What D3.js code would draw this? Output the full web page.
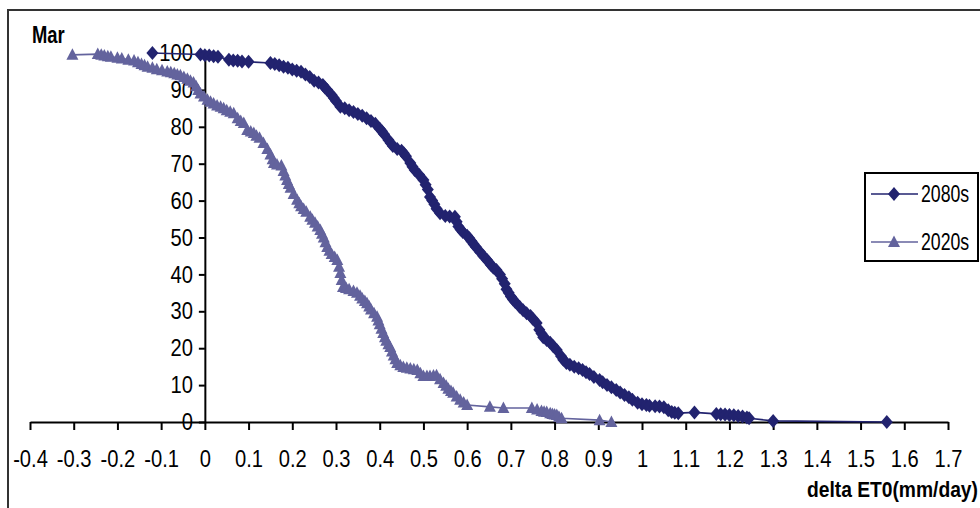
<!DOCTYPE html>
<html><head><meta charset="utf-8">
<script src="https://cdn.jsdelivr.net/npm/d3@7"></script>
<style>
html,body{margin:0;padding:0;background:#fff;}
svg{display:block;}
text{font-family:"Liberation Sans Narrow","Arial Narrow","Liberation Sans",Arial,sans-serif;fill:#000;}
</style></head>
<body>
<svg id="chart" width="980" height="508"></svg>
<script>
// ---- data ----
const xTicks = [-0.4,-0.3,-0.2,-0.1,0,0.1,0.2,0.3,0.4,0.5,0.6,0.7,0.8,0.9,1,1.1,1.2,1.3,1.4,1.5,1.6,1.7];
const xTickLabels = ["-0.4","-0.3","-0.2","-0.1","0","0.1","0.2","0.3","0.4","0.5","0.6","0.7","0.8","0.9","1","1.1","1.2","1.3","1.4","1.5","1.6","1.7"];
const yTicks = [0,10,20,30,40,50,60,70,80,90,100];
const seriesNames = ["2080s","2020s"];
const x2080s = [-0.12,-0.01,0.00,0.01,0.02,0.03,0.055,0.065,0.075,0.085,0.10,0.15,0.16,0.17,0.18,0.19,0.20,0.21,0.22,0.23,0.24,0.25,0.26,0.27,0.275,0.28,0.29,0.295,0.30,0.31,0.32,0.33,0.34,0.35,0.36,0.37,0.38,0.39,0.40,0.405,0.41,0.42,0.425,0.43,0.44,0.45,0.455,0.46,0.47,0.475,0.48,0.49,0.50,0.505,0.51,0.515,0.52,0.525,0.53,0.538,0.55,0.56,0.572,0.576,0.58,0.585,0.59,0.60,0.605,0.61,0.615,0.62,0.63,0.637,0.645,0.65,0.655,0.66,0.667,0.675,0.68,0.686,0.69,0.695,0.70,0.705,0.71,0.72,0.728,0.736,0.745,0.75,0.759,0.765,0.77,0.774,0.782,0.79,0.797,0.805,0.815,0.82,0.827,0.835,0.845,0.855,0.864,0.872,0.88,0.89,0.903,0.91,0.92,0.93,0.941,0.95,0.96,0.97,0.978,0.99,1.00,1.01,1.017,1.03,1.04,1.05,1.06,1.068,1.075,1.083,1.12,1.17,1.18,1.19,1.20,1.21,1.22,1.23,1.24,1.245,1.30,1.56];
const y2080s = [100,99.6,99.4,99.3,99.1,99,98.2,98,97.9,97.7,97.6,97.3,97,96.7,96.3,96,95.5,95.2,94.9,94.2,93.5,92.5,92,91.3,90.6,90,88.6,87.8,87,85.4,85,84.5,84,83.5,83,82.3,81.6,80.8,79.5,78.8,78,76.4,75.6,74.8,74,73.5,72.8,72,70.2,69.2,68.3,67,65.6,64.3,63,61,60,59,57.8,56.6,55.8,55.7,55.6,54.3,53,52.2,51.5,50.5,49.8,49,48.2,47.4,46,45,44,43.2,42.5,41.8,41.2,40,38.8,37.5,36,35,34,33.2,32.5,31.2,30.3,29.5,28.7,28,26.8,25,24,23,22.2,21.5,20.5,19.5,17.8,16.9,16,15.5,15,14.6,14.1,13.5,13,12.2,11.4,10.8,10,9.4,8.7,8,7.3,6.7,6,5.2,4.8,4.6,4.4,4.3,4.2,4,3.2,2.7,2.5,2.4,2.6,2.2,2.1,2,1.9,1.8,1.6,1.5,1.2,1,0.3,0];
const x2020s = [-0.303,-0.245,-0.237,-0.23,-0.222,-0.215,-0.20,-0.19,-0.175,-0.162,-0.153,-0.145,-0.138,-0.131,-0.12,-0.11,-0.098,-0.086,-0.078,-0.07,-0.063,-0.056,-0.048,-0.04,-0.033,-0.026,-0.02,-0.015,-0.01,-0.002,0.006,0.013,0.02,0.028,0.036,0.043,0.05,0.058,0.066,0.075,0.082,0.089,0.097,0.105,0.112,0.118,0.125,0.134,0.143,0.15,0.155,0.158,0.165,0.175,0.18,0.184,0.188,0.192,0.196,0.203,0.211,0.216,0.22,0.226,0.232,0.241,0.246,0.252,0.258,0.264,0.268,0.272,0.276,0.28,0.285,0.29,0.297,0.303,0.307,0.31,0.313,0.316,0.323,0.33,0.34,0.348,0.355,0.36,0.366,0.371,0.376,0.38,0.387,0.394,0.397,0.40,0.404,0.408,0.412,0.415,0.42,0.424,0.428,0.432,0.436,0.44,0.447,0.454,0.462,0.47,0.478,0.486,0.493,0.50,0.508,0.515,0.523,0.53,0.538,0.546,0.552,0.557,0.563,0.568,0.576,0.584,0.592,0.60,0.652,0.683,0.748,0.76,0.77,0.776,0.782,0.79,0.795,0.80,0.805,0.81,0.816,0.903,0.93];
const y2020s = [99.5,99.7,99.5,99.3,99.1,99,98.7,98.5,98.2,98,97.5,97,96.7,96.3,96,95.6,95.3,95,94.8,94.5,94.2,94,93.5,93,92.5,92,91,90,89,88.2,87.3,86.8,86.3,85.8,85.4,85,84.5,84.1,83.7,82.3,81.6,81,79.1,78.7,78.3,77.6,77,75.6,74,72.5,71.2,70.2,69.8,69.5,68,66.8,65.6,64.5,63.5,61.8,60.2,59.3,58.5,57.7,57,55.6,54.8,54,53,52,51,50,48.7,47.4,46.4,45.5,44.7,43.9,42.1,40.4,38.5,36.6,36.3,36,35.5,35,34.2,33.5,32.8,32.2,31.3,30.5,29.5,28.5,27.5,26.5,25.3,24.1,23,22,21.1,20.3,19.1,18,17,16,15.4,14.9,14.7,14.5,14.3,14.1,13.2,12.5,12.5,12.5,12.6,12.7,11.6,10.6,9.8,9,8.4,7.9,6.9,6,5.3,4.6,4.1,3.8,3.8,3.4,3,2.8,2.7,2.4,2.2,2.0,1.9,1.4,1,0.5,0];

const colors = {"2080s":"#22236f","2020s":"#63639d"};

// custom marker shapes (Excel-like)
const diamondSym = {draw(ctx){ctx.moveTo(0,-7);ctx.lineTo(6,0);ctx.lineTo(0,7);ctx.lineTo(-6,0);ctx.closePath();}};
const triangleSym = {draw(ctx){ctx.moveTo(0,-6.5);ctx.lineTo(6,5);ctx.lineTo(-6,5);ctx.closePath();}};

const svg = d3.select("#chart");
const x = d3.scaleLinear().domain([-0.4,1.7]).range([30,948]);
const y = d3.scaleLinear().domain([0,100]).range([422,53]);

function squeeze(sel,k){
  sel.each(function(){
    const t=d3.select(this);
    const ox=+(t.attr("x")||0);
    t.attr("x",ox/k).attr("transform",`scale(${k},1)`);
  });
}

// outer border
svg.append("rect").attr("x",8).attr("y",10).attr("width",1000).attr("height",520)
  .attr("fill","none").attr("stroke","#333").attr("stroke-width",2);

// x axis
const gx = svg.append("g").attr("transform",`translate(0,${y(0)})`)
  .call(d3.axisBottom(x).tickValues(xTicks).tickSize(8).tickPadding(20).tickSizeOuter(0)
    .tickFormat((d,i)=>xTickLabels[i]));
gx.select(".domain").attr("stroke","#000").attr("stroke-width",2);
gx.selectAll(".tick line").attr("stroke","#000").attr("stroke-width",2);
gx.selectAll(".tick text").attr("font-size",24).attr("font-family",null).attr("fill","#000").call(squeeze,0.84);

// y axis
const gy = svg.append("g").attr("transform",`translate(${x(0)},0)`)
  .call(d3.axisLeft(y).tickValues(yTicks).tickSize(6).tickPadding(6).tickSizeOuter(0));
gy.select(".domain").attr("stroke","#000").attr("stroke-width",2);
gy.selectAll(".tick line").attr("stroke","#000").attr("stroke-width",2);
gy.selectAll(".tick text").attr("font-size",24).attr("font-family",null).attr("fill","#000").call(squeeze,0.84);

// series
const series = [
  {name:"2080s", xs:x2080s, ys:y2080s, sym:diamondSym},
  {name:"2020s", xs:x2020s, ys:y2020s, sym:triangleSym}
];
const line = d3.line().x(d=>x(d[0])).y(d=>y(d[1]));
series.slice().reverse().forEach(s=>{
  const pts = s.xs.map((v,i)=>[v,s.ys[i]]);
  const g = svg.append("g");
  g.append("path").datum(pts).attr("d",line).attr("fill","none")
    .attr("stroke",colors[s.name]).attr("stroke-width",1.6);
  g.selectAll("path.m").data(pts).enter().append("path").attr("class","m")
    .attr("d",d3.symbol().type(s.sym))
    .attr("transform",d=>`translate(${x(d[0])},${y(d[1])})`)
    .attr("fill",colors[s.name]);
});

// titles
svg.append("text").attr("x",32).attr("y",43).attr("font-size",23).attr("font-weight","bold").text("Mar").call(squeeze,0.8);
svg.append("text").attr("x",978).attr("y",497).attr("text-anchor","end").attr("font-size",22)
  .attr("font-weight","bold").text("delta ET0(mm/day)").call(squeeze,0.875);

// legend
const lg = svg.append("g");
lg.append("rect").attr("x",865).attr("y",173).attr("width",113).attr("height",88)
  .attr("fill","#fff").attr("stroke","#000").attr("stroke-width",2);
series.forEach((s,i)=>{
  const ly = 194 + i*48;
  lg.append("line").attr("x1",871).attr("x2",918).attr("y1",ly).attr("y2",ly)
    .attr("stroke",colors[s.name]).attr("stroke-width",1.6);
  lg.append("path").attr("d",d3.symbol().type(s.sym)())
    .attr("transform",`translate(894,${ly})`).attr("fill",colors[s.name]);
  lg.append("text").attr("x",921).attr("y",ly+8).attr("font-size",23).text(s.name).call(squeeze,0.77);
});
</script>
</body></html>
